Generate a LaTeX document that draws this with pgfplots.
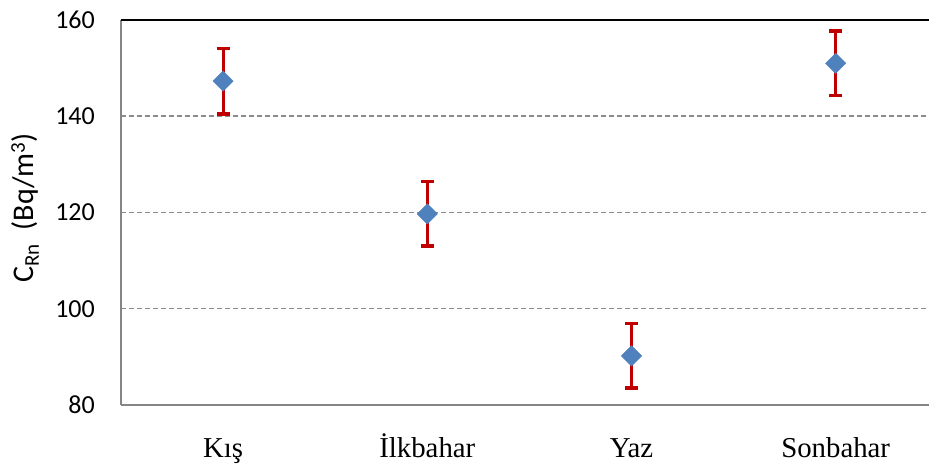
\documentclass[border=0pt]{standalone}
\usepackage{fontspec}
\setmainfont{Liberation Serif}
\newfontfamily\calibri{Carlito}
\usepackage{pgfplots}
\pgfplotsset{compat=1.18}
\definecolor{errred}{HTML}{C00000}
\definecolor{mblue}{HTML}{4F81BD}
\definecolor{gridgray}{HTML}{8C8C8C}
\definecolor{axgray}{HTML}{868686}
\begin{document}
\begin{tikzpicture}
\begin{axis}[
  scale only axis,
  width=808pt, height=385pt,
  xmin=-0.5, xmax=3.457,
  ymin=80, ymax=160,
  ytick={80,100,120,140,160},
  xtick={0,1,2,3},
  xticklabels={Kış,İlkbahar,Yaz,Sonbahar},
  major tick length=0pt,
  axis line style={draw=none},
  ymajorgrids,
  grid style={gridgray, line width=1.5pt, dash pattern=on 5pt off 3pt},
  /pgf/number format/assume math mode=true,
  yticklabel style={font=\calibri\fontsize{26}{31}\selectfont, anchor=east, inner sep=0pt, xshift=-26pt},
  xticklabel style={font=\fontsize{28.8}{34}\selectfont, anchor=base, inner sep=0pt, yshift=-53pt},
  ylabel={\calibri\fontsize{30}{36}\selectfont C\textsubscript{Rn}\ \ (Bq/m\textsuperscript{3})},
  ylabel style={at={(axis description cs:-0.1188,0.512)}, anchor=center, inner sep=0pt},
  clip=false,
]
\draw[axgray, line width=2.5pt] (rel axis cs:0,0) -- (rel axis cs:1,0);
\draw[axgray, line width=2pt] (rel axis cs:0,0) -- (rel axis cs:0,1);
\draw[black, line width=2pt] (rel axis cs:0,1) -- (rel axis cs:1,1);
\addplot[only marks, mark=square*, mark size=7.2pt,
  mark options={rotate=45, fill=mblue, draw=mblue},
  error bars/.cd, y dir=both, y explicit,
  error bar style={errred, line width=3pt},
  error mark options={errred, line width=3.5pt, mark size=6.5pt, rotate=90}]
coordinates {
  (0,147.3) +- (0,6.8)
  (1,119.7) +- (0,6.7)
  (2,90.2) +- (0,6.7)
  (3,151.0) +- (0,6.7)
};
\coordinate (bl) at (rel axis cs:0,0);
\coordinate (tr) at (rel axis cs:1,1);
\end{axis}
\pgfresetboundingbox
\path[use as bounding box] ([shift={(-121pt,-62pt)}]bl) rectangle ([shift={(0pt,20pt)}]tr);
\end{tikzpicture}
\end{document}
